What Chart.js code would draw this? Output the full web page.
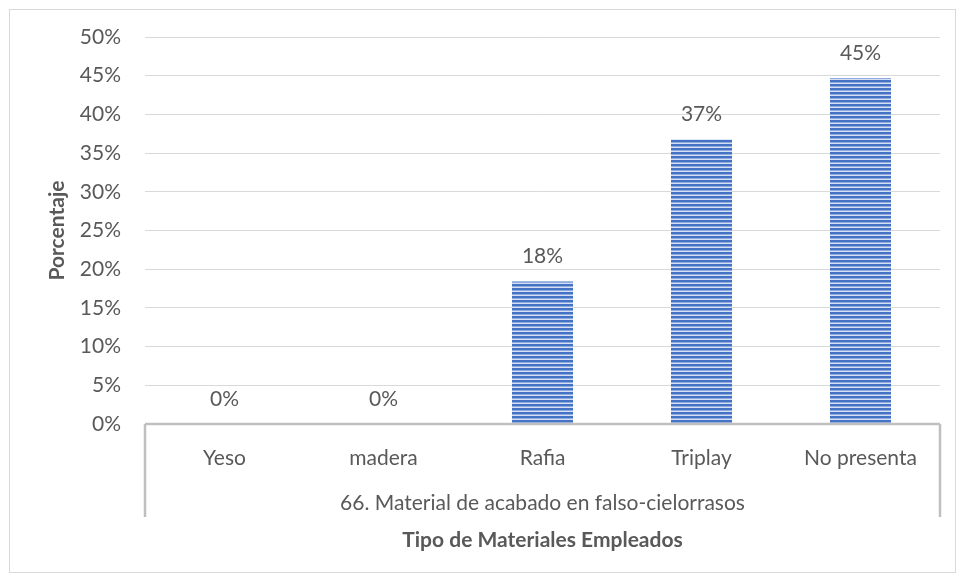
<!DOCTYPE html>
<html><head><meta charset="utf-8">
<script src="https://cdn.jsdelivr.net/npm/chart.js@4/dist/chart.umd.min.js"></script>
<style>html,body{margin:0;padding:0;background:#fff}#wrap{width:964px;height:579px;position:relative}</style>
</head><body><div id="wrap"><canvas id="c" width="964" height="579"></canvas></div>
<script>
const categories = ['Yeso', 'madera', 'Rafia', 'Triplay', 'No presenta'];
const values = [0, 0, 0.184, 0.368, 0.447];
const groupLabel = '66. Material de acabado en falso-cielorrasos';
const xTitle = 'Tipo de Materiales Empleados';
const yTitle = 'Porcentaje';

const FONT = 'Lato, "Open Sans", sans-serif';
const FS = 21;
const TXT = '#595959';

function stripePattern() {
  const p = document.createElement('canvas');
  p.width = 8; p.height = 4;
  const g = p.getContext('2d');
  g.fillStyle = '#4472c4'; g.fillRect(0, 0, 8, 2);
  g.fillStyle = '#8eaadf'; g.fillRect(0, 2, 8, 1);
  g.fillStyle = '#d5e0f3'; g.fillRect(0, 3, 8, 1);
  return g.createPattern(p, 'repeat');
}

const framePlugin = {
  id: 'frame',
  afterDraw(chart) {
    const ctx = chart.ctx, a = chart.chartArea;
    ctx.save();
    ctx.strokeStyle = '#d9d9d9'; ctx.lineWidth = 1;
    ctx.strokeRect(9.5, 9.5, 946, 563);
    ctx.strokeStyle = '#bfbfbf'; ctx.lineWidth = 2.5;
    ctx.beginPath();
    ctx.moveTo(a.left, a.bottom); ctx.lineTo(a.right, a.bottom);
    ctx.moveTo(a.left, a.bottom); ctx.lineTo(a.left, a.bottom + 93);
    ctx.moveTo(a.right, a.bottom); ctx.lineTo(a.right, a.bottom + 93);
    ctx.stroke();
    ctx.fillStyle = TXT; ctx.font = FS + 'px ' + FONT;
    ctx.textAlign = 'center'; ctx.textBaseline = 'middle';
    ctx.fillText(groupLabel, (a.left + a.right) / 2, a.bottom + 79);
    const meta = chart.getDatasetMeta(0);
    meta.data.forEach((bar, i) => {
      ctx.fillText(Math.round(values[i] * 100) + '%', bar.x, bar.y - 25);
    });
    ctx.restore();
  }
};

new Chart(document.getElementById('c'), {
  type: 'bar',
  data: { labels: categories, datasets: [{ data: values, backgroundColor: stripePattern(), borderWidth: 0, barPercentage: 0.48, categoryPercentage: 0.8 }] },
  options: {
    responsive: false, animation: false,
    layout: { padding: { left: 0, right: 24, top: 37, bottom: 0 } },
    plugins: { legend: { display: false }, tooltip: { enabled: false } },
    scales: {
      y: {
        min: 0, max: 0.5,
        afterFit: s => { s.width = 145; },
        border: { display: false },
        grid: { color: '#d9d9d9', lineWidth: 1, drawTicks: false },
        ticks: { stepSize: 0.05, padding: 24, color: TXT, font: { family: FONT, size: FS },
          callback: v => Math.round(v * 100) + '%' },
        title: { display: true, text: yTitle, color: TXT, font: { family: FONT, size: FS, weight: 'bold' }, padding: { top: 45, bottom: 45 } }
      },
      x: {
        afterFit: s => { s.height = 155; },
        border: { display: false },
        grid: { display: false, drawTicks: false },
        ticks: { padding: 22, color: TXT, font: { family: FONT, size: FS }, maxRotation: 0 },
        title: { display: true, text: xTitle, color: TXT, font: { family: FONT, size: FS, weight: 'bold' }, padding: { top: 26, bottom: 26 } }
      }
    }
  },
  plugins: [framePlugin]
});
</script></body></html>
